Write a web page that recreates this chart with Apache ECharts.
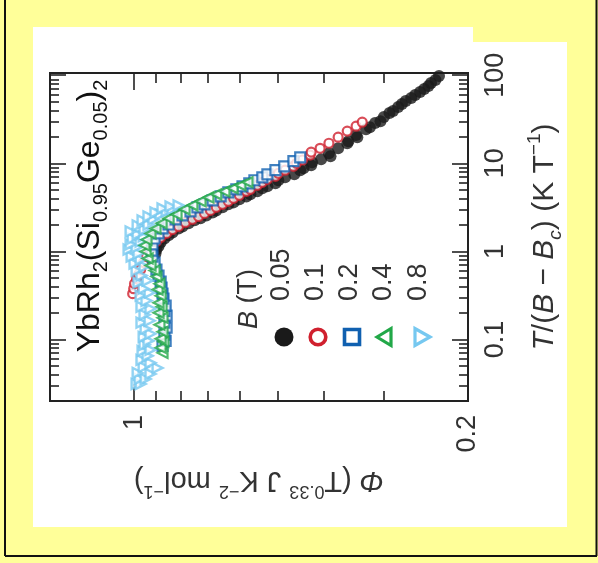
<!DOCTYPE html>
<html>
<head>
<meta charset="utf-8">
<script src="https://cdn.jsdelivr.net/npm/echarts@6.0.0/dist/echarts.min.js"></script>
<style>
  html, body { margin: 0; padding: 0; background: #ffff99; }
  #chart { width: 598px; height: 563px; }
</style>
</head>
<body>
<div id="chart"></div>
<script>
// The figure is printed turned on its side: horizontal = Phi (1 on the left),
// vertical = T/(B - Bc). Points are [Phi, T/(B-Bc)].
var phiMajor = [1];
var phiMinor = [0.3, 0.4, 0.5, 0.6, 0.7, 0.8, 0.9];
var phiLabels = [0.2, 1];
var tMajor = [0.1, 1, 10, 100];
var tMinor = [0.02, 0.03, 0.04, 0.05, 0.06, 0.07, 0.08, 0.09,
  0.2, 0.3, 0.4, 0.5, 0.6, 0.7, 0.8, 0.9,
  2, 3, 4, 5, 6, 7, 8, 9, 20, 30, 40, 50, 60, 70, 80, 90];
var fields = ['0.05', '0.1', '0.2', '0.4', '0.8'];
var colors = ['#1a1a1a', '#d0202e', '#1060b0', '#22a848', '#76c8f0'];

var b005 = [[0.902,0.945],[0.898,1.05],[0.889,1.14],[0.880,1.26],[0.864,1.40],[0.847,1.52],[0.831,1.64],[0.807,1.82],[0.792,1.92],[0.769,2.08],[0.747,2.25],[0.726,2.37],[0.706,2.56],[0.685,2.77],[0.673,2.92],[0.653,3.16],[0.635,3.42],[0.619,3.60],[0.602,3.90],[0.582,4.21],[0.571,4.44],[0.552,4.80],[0.539,5.20],[0.526,5.48],[0.506,5.92],[0.499,6.42],[0.483,6.93],[0.462,7.50],[0.449,8.35],[0.442,8.78],[0.426,9.50],[0.424,10.3],[0.406,11.1],[0.391,13.0],[0.388,12.0],[0.374,14.8],[0.358,16.9],[0.356,17.8],[0.343,20.9],[0.341,19.8],[0.327,24.4],[0.321,25.7],[0.313,28.6],[0.305,30.1],[0.300,33.5],[0.292,37.2],[0.287,39.2],[0.280,43.5],[0.275,47.0],[0.270,50.9],[0.263,55.1],[0.258,59.6],[0.252,64.4],[0.247,69.7],[0.242,75.4],[0.239,81.6],[0.234,88.3],[0.230,98.0]];
var b01 = [[1.007,0.331],[1.002,0.377],[0.998,0.430],[0.988,0.490],[0.979,0.545],[0.969,0.621],[0.955,0.746],[0.942,0.873],[0.928,1.02],[0.915,1.17],[0.898,1.29],[0.880,1.44],[0.855,1.60],[0.831,1.77],[0.807,1.92],[0.781,2.13],[0.755,2.31],[0.733,2.49],[0.712,2.70],[0.692,2.92],[0.673,3.16],[0.653,3.42],[0.635,3.70],[0.619,4.00],[0.602,4.33],[0.582,4.80],[0.571,5.06],[0.552,5.62],[0.539,6.08],[0.526,6.58],[0.506,7.12],[0.499,7.70],[0.483,8.35],[0.464,9.25],[0.457,10.0],[0.444,10.9],[0.428,12.4],[0.426,13.4],[0.408,14.8],[0.391,16.9],[0.374,19.8],[0.358,23.2],[0.343,26.4],[0.333,29.3]];
var b02 = [[0.872,0.0846],[0.859,0.0965],[0.864,0.113],[0.855,0.136],[0.864,0.155],[0.855,0.186],[0.864,0.211],[0.859,0.242],[0.868,0.290],[0.872,0.331],[0.876,0.387],[0.880,0.453],[0.889,0.531],[0.898,0.621],[0.906,0.746],[0.915,0.873],[0.919,1.02],[0.915,1.20],[0.906,1.40],[0.889,1.60],[0.872,1.82],[0.847,2.02],[0.819,2.31],[0.792,2.56],[0.762,2.84],[0.737,3.16],[0.712,3.42],[0.685,3.80],[0.659,4.21],[0.635,4.68],[0.611,5.06],[0.593,5.48],[0.574,5.92],[0.560,6.42],[0.539,6.93],[0.526,7.50],[0.506,8.35],[0.485,9.25],[0.464,10.6],[0.449,11.7]];
var b04 = [[0.872,0.0704],[0.880,0.0803],[0.868,0.0940],[0.880,0.102],[0.872,0.122],[0.885,0.147],[0.872,0.176],[0.889,0.201],[0.876,0.235],[0.889,0.261],[0.880,0.314],[0.893,0.368],[0.885,0.430],[0.898,0.517],[0.906,0.605],[0.924,0.690],[0.937,0.829],[0.946,0.996],[0.951,1.17],[0.942,1.36],[0.924,1.60],[0.902,1.82],[0.876,2.08],[0.847,2.37],[0.815,2.63],[0.784,3.00],[0.755,3.33],[0.726,3.70],[0.699,4.10],[0.673,4.44],[0.647,4.80],[0.622,5.20],[0.599,5.62],[0.579,6.08]];
var b08 = [[0.988,0.0312],[0.969,0.0312],[0.974,0.0356],[0.946,0.0356],[0.924,0.0406],[0.983,0.0417],[0.893,0.0475],[0.955,0.0487],[0.924,0.0542],[0.965,0.0586],[0.937,0.0651],[0.960,0.0742],[0.924,0.0762],[0.951,0.0869],[0.933,0.0965],[0.955,0.107],[0.924,0.116],[0.946,0.132],[0.965,0.155],[0.928,0.163],[0.951,0.191],[0.924,0.223],[0.965,0.235],[0.942,0.275],[0.969,0.314],[0.928,0.340],[0.955,0.377],[0.979,0.442],[0.937,0.465],[0.965,0.531],[0.988,0.605],[0.951,0.672],[0.998,0.727],[0.969,0.807],[1.012,0.873],[0.979,0.945],[1.027,1.05],[0.988,1.11],[1.017,1.20],[0.969,1.29],[1.007,1.40],[0.955,1.48],[0.983,1.56],[1.017,1.68],[0.951,1.77],[0.983,1.97],[0.933,2.02],[0.960,2.25],[0.911,2.31],[0.933,2.49],[0.880,2.63],[0.902,2.77],[0.855,2.84],[0.872,3.08],[0.831,3.00],[0.839,3.24],[0.807,3.33]];

var F = '"Liberation Sans", Arial, sans-serif';
var ink = '#333';
var myChart = echarts.init(document.getElementById('chart'));

function phiAxis(pos, ticks, len, withLabel) {
  return {
    type: 'log', position: pos, min: 0.2, max: 1.5, inverse: true,
    axisLine: { show: false }, splitLine: { show: false },
    axisTick: { show: true, inside: true, length: len, customValues: ticks,
      lineStyle: { color: '#222', width: 1.6 } },
    axisLabel: withLabel ? { show: true, customValues: phiLabels, rotate: 90, margin: 14,
      fontSize: 27, fontFamily: F, color: ink } : { show: false }
  };
}
function tAxis(pos, ticks, len, withLabel) {
  return {
    type: 'log', position: pos, min: 0.02, max: 106,
    axisLine: { show: false }, splitLine: { show: false },
    axisTick: { show: true, inside: true, length: len, customValues: ticks,
      lineStyle: { color: '#222', width: 1.6 } },
    axisLabel: withLabel ? { show: true, customValues: tMajor, rotate: 90, margin: 14,
      fontSize: 27, fontFamily: F, color: ink } : { show: false }
  };
}
function scatter(data, idx, symbol, size, rot, filled, bw) {
  return {
    name: fields[idx], type: 'scatter', data: data, symbol: symbol,
    symbolSize: size, symbolRotate: rot, silent: true,
    itemStyle: filled ? { color: colors[idx] }
      : { color: '#fff', borderColor: colors[idx], borderWidth: bw }
  };
}

var xMain = phiAxis('bottom', phiMajor, 17, true);
xMain.name = '{i|\u03a6} (T{sup|0.33} J K{sup|\u22122} mol{sup|\u22121})';
xMain.nameLocation = 'middle';
xMain.nameRotate = 180;
xMain.nameGap = 50;
xMain.nameTextStyle = { fontSize: 29, fontFamily: F, color: ink, lineHeight: 40,
  rich: { i: { fontSize: 29, fontStyle: 'italic', fontFamily: F, color: ink, lineHeight: 40 },
          sup: { fontSize: 18, fontFamily: F, color: ink, verticalAlign: 'top', lineHeight: 18 } } };

var yMain = tAxis('right', tMajor, 16, true);
yMain.name = '{i|T}/({i|B} \u2212 {i|B}{sub|c}) (K T{sup|\u22121})';
yMain.nameLocation = 'middle';
yMain.nameRotate = 90;
yMain.nameGap = 57;
yMain.nameTextStyle = { fontSize: 30, fontFamily: F, color: ink, lineHeight: 40,
  rich: { i: { fontSize: 30, fontStyle: 'italic', fontFamily: F, color: ink, lineHeight: 40 },
          sub: { fontSize: 19, fontStyle: 'italic', fontFamily: F, color: ink, verticalAlign: 'bottom', lineHeight: 18 },
          sup: { fontSize: 19, fontFamily: F, color: ink, verticalAlign: 'top', lineHeight: 18 } } };

var legendX = [282, 316, 350, 384, 419];
var graphics = [
  { type: 'rect', z: -10, silent: true, shape: { x: 33, y: 27, width: 534, height: 500 }, style: { fill: '#fff' } },
  { type: 'rect', z: -9, silent: true, shape: { x: 473, y: 27, width: 94, height: 15 }, style: { fill: '#ffff99' } },
  { type: 'line', silent: true, shape: { x1: 5, y1: 0, x2: 5, y2: 556 }, style: { stroke: '#111', lineWidth: 2 } },
  { type: 'line', silent: true, shape: { x1: 5, y1: 556, x2: 597, y2: 556 }, style: { stroke: '#111', lineWidth: 2 } },
  { type: 'line', silent: true, shape: { x1: 596.5, y1: 0, x2: 596.5, y2: 556 }, style: { stroke: '#111', lineWidth: 2 } },
  { type: 'text', x: 90, y: 216, rotation: Math.PI / 2, silent: true,
    style: { text: 'YbRh{s|2}(Si{s|0.95}Ge{s|0.05}){s|2}', fontSize: 32, fontFamily: F, fill: '#111',
      lineHeight: 42, align: 'center', verticalAlign: 'middle',
      rich: { s: { fontSize: 20, fontFamily: F, fill: '#111', verticalAlign: 'bottom', lineHeight: 20 } } } },
  { type: 'text', x: 249, y: 329, rotation: Math.PI / 2, silent: true,
    style: { text: '{i|B} (T)', fontSize: 27, fontFamily: F, fill: ink, align: 'left', verticalAlign: 'middle',
      rich: { i: { fontSize: 27, fontStyle: 'italic', fontFamily: F, fill: ink } } } },
  { type: 'circle', silent: true, shape: { cx: 284, cy: 337, r: 9.5 }, style: { fill: colors[0] } },
  { type: 'circle', silent: true, shape: { cx: 318, cy: 337, r: 7.8 }, style: { fill: '#fff', stroke: colors[1], lineWidth: 3.6 } },
  { type: 'rect', silent: true, shape: { x: 344.5, y: 329.5, width: 15, height: 15 }, style: { fill: '#fff', stroke: colors[2], lineWidth: 3.6 } },
  { type: 'polygon', silent: true, shape: { points: [[377, 337], [391, 328.5], [391, 345.5]] }, style: { fill: '#fff', stroke: colors[3], lineWidth: 3.2 } },
  { type: 'polygon', silent: true, shape: { points: [[430, 337], [415, 328.5], [415, 345.5]] }, style: { fill: '#fff', stroke: colors[4], lineWidth: 3.2 } }
];
fields.forEach(function (f, i) {
  graphics.push({ type: 'text', x: legendX[i], y: 301, rotation: Math.PI / 2, silent: true,
    style: { text: f, fontSize: 27, fontFamily: F, fill: ink, align: 'left', verticalAlign: 'middle' } });
});

var option = {
  backgroundColor: '#ffff99',
  animation: false,
  grid: { left: 50, right: 130, top: 73, bottom: 162, show: true,
    borderColor: '#222', borderWidth: 2, backgroundColor: 'transparent' },
  xAxis: [xMain, phiAxis('bottom', phiMinor, 10, false),
          phiAxis('top', phiMajor, 17, false), phiAxis('top', phiMinor, 10, false)],
  yAxis: [yMain, tAxis('right', tMinor, 9, false),
          tAxis('left', tMajor, 16, false), tAxis('left', tMinor, 9, false)],
  graphic: graphics,
  series: [
    scatter(b005, 0, 'circle', 12, 0, true),
    scatter(b01, 1, 'circle', 9, 0, false, 2.2),
    scatter(b02, 2, 'rect', 10, 0, false, 2.2),
    scatter(b08, 4, 'triangle', 10, -90, false, 2.4),
    scatter(b04, 3, 'triangle', 10, 90, false, 2.2)
  ]
};
option && myChart.setOption(option);
</script>
</body>
</html>
